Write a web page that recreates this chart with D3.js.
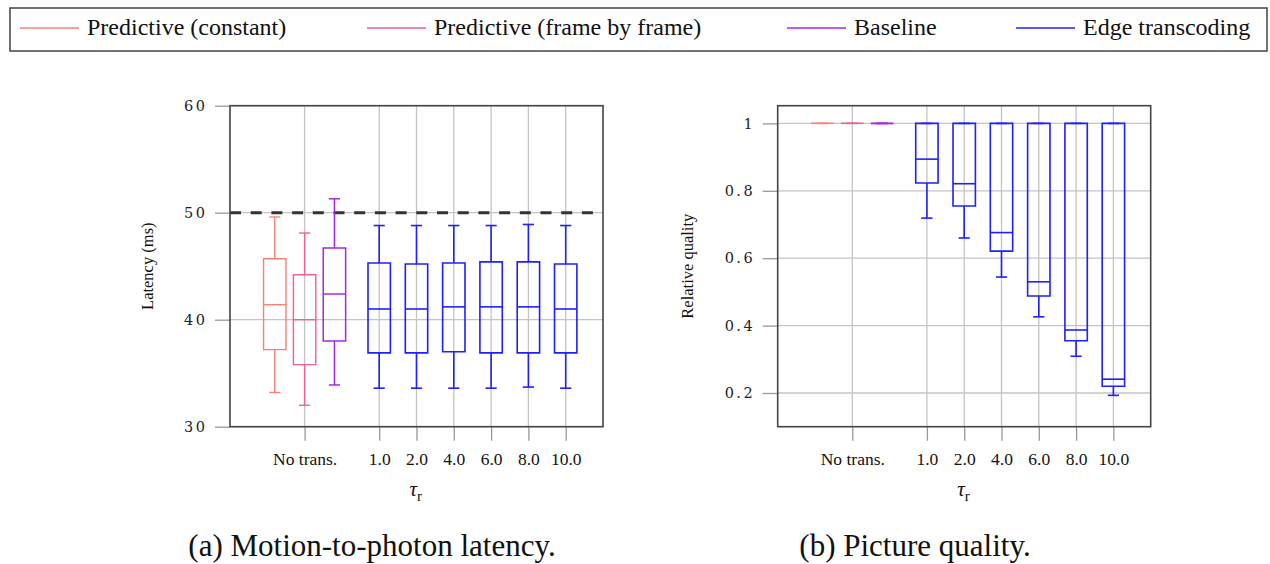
<!DOCTYPE html>
<html>
<head>
<meta charset="utf-8">
<script src="https://cdn.jsdelivr.net/npm/d3@7"></script>
</head>
<body style="margin:0;background:#fff">
<svg id="chart" width="1270" height="564"></svg>
<script>
// categories on the x axis and where they sit
const xLabels = ["No trans.", "1.0", "2.0", "4.0", "6.0", "8.0", "10.0"];
const xTickPos = [1, 3, 4, 5, 6, 7, 8];

const seriesNames = ["Predictive (constant)", "Predictive (frame by frame)", "Baseline", "Edge transcoding"];
const seriesColors = ["#fa8072", "#f0609c", "#a826e8", "#1f1fff"];

// box stats: [lower whisker, q1, median, q3, upper whisker]
const latPredConst = [33.2, 37.2, 41.4, 45.7, 49.6];
const latPredFrame = [32.0, 35.8, 40.0, 44.2, 48.1];
const latBaseline  = [33.9, 38.0, 42.4, 46.7, 51.3];
const latEdge = [
  [33.6, 36.9, 41.0, 45.3, 48.8],
  [33.6, 36.9, 41.0, 45.2, 48.8],
  [33.6, 37.0, 41.2, 45.3, 48.8],
  [33.6, 36.9, 41.2, 45.4, 48.8],
  [33.7, 36.9, 41.2, 45.4, 48.9],
  [33.6, 36.9, 41.0, 45.2, 48.8]
];
const latTicks = [30, 40, 50, 60];
const latLimit = 50;

const qualPredConst = [1, 1, 1, 1, 1];
const qualPredFrame = [1, 1, 1, 1, 1];
const qualBaseline  = [1, 1, 1, 1, 1];
const qualEdge = [
  [0.719, 0.823, 0.894, 1, 1],
  [0.660, 0.755, 0.821, 1, 1],
  [0.544, 0.621, 0.676, 1, 1],
  [0.426, 0.488, 0.530, 1, 1],
  [0.309, 0.355, 0.387, 1, 1],
  [0.193, 0.220, 0.241, 1, 1]
];
const qualTicks = [0.2, 0.4, 0.6, 0.8, 1];
const qualTickLabels = ["0.2", "0.4", "0.6", "0.8", "1"];

const SERIF = '"Liberation Serif"';
const WIDE = '"DejaVu Serif"';

const svg = d3.select("#chart");

function font(sel, fam, size) {
  sel.attr("font-family", fam.replace(/"/g, ""))
    .attr("font-size", size)
    .style("font-family", fam, "important")
    .style("font-size", size + "px", "important");
  return sel;
}

// legend
const legend = svg.append("g");
legend.append("rect")
  .attr("x", 10).attr("y", 8).attr("width", 1257).attr("height", 43)
  .attr("fill", "none").attr("stroke", "#444").attr("stroke-width", 1.5);
const legendX = [20, 367, 787, 1016];
seriesNames.forEach((name, i) => {
  legend.append("line")
    .attr("x1", legendX[i]).attr("x2", legendX[i] + 59)
    .attr("y1", 28).attr("y2", 28)
    .attr("stroke", seriesColors[i]).attr("stroke-width", 1.6);
  legend.append("text")
    .attr("x", legendX[i] + 67).attr("y", 35)
    .attr("fill", "#111")
    .call(font, SERIF, 24)
    .text(name);
});

function boxPlot(g, x, y, stats, pos, color, width) {
  const [lo, q1, med, q3, hi] = stats;
  const x0 = x(pos - 0.3), x1 = x(pos + 0.3);
  const c0 = x(pos - 0.15), c1 = x(pos + 0.15);
  const b = g.append("g")
    .attr("fill", "none")
    .attr("stroke", color)
    .attr("stroke-width", width);
  b.append("path")
    .attr("d", `M${x0},${y(q1)}H${x1}V${y(q3)}H${x0}Z`);
  b.append("line")
    .attr("x1", x0).attr("x2", x1).attr("y1", y(med)).attr("y2", y(med));
  b.append("line")
    .attr("x1", x(pos)).attr("x2", x(pos)).attr("y1", y(q3)).attr("y2", y(hi));
  b.append("line")
    .attr("x1", x(pos)).attr("x2", x(pos)).attr("y1", y(q1)).attr("y2", y(lo));
  b.append("line")
    .attr("x1", c0).attr("x2", c1).attr("y1", y(hi)).attr("y2", y(hi));
  b.append("line")
    .attr("x1", c0).attr("x2", c1).attr("y1", y(lo)).attr("y2", y(lo));
}

function panel(opts) {
  const left = opts.left, right = opts.left + 373, top = 105.7, bottom = 426.7;
  const x = d3.scaleLinear().domain([-1, 9]).range([left, right]);
  const y = d3.scaleLinear().domain(opts.yDomain).range([bottom, top]);
  const g = svg.append("g");

  // grid
  g.append("g").selectAll("line").data(xTickPos).enter().append("line")
    .attr("x1", d => x(d)).attr("x2", d => x(d))
    .attr("y1", top).attr("y2", bottom)
    .attr("stroke", "#c4c4c4").attr("stroke-width", 1.3);
  g.append("g").selectAll("line").data(opts.yTicks).enter().append("line")
    .attr("x1", left).attr("x2", right)
    .attr("y1", d => y(d)).attr("y2", d => y(d))
    .attr("stroke", "#c4c4c4").attr("stroke-width", 1.3);

  // x axis
  const xAxis = g.append("g")
    .attr("transform", `translate(0,${bottom})`)
    .call(d3.axisBottom(x).tickValues(xTickPos)
      .tickFormat((d, i) => xLabels[i]).tickSize(14).tickPadding(12));
  xAxis.attr("font-family", null).attr("font-size", null);
  xAxis.select(".domain").remove();
  xAxis.selectAll(".tick line").attr("stroke", "#999").attr("stroke-width", 1.3);
  xAxis.selectAll(".tick text")
    .call(font, SERIF, 17.5)
    .attr("fill", "#111");

  // y axis
  const yAxis = g.append("g")
    .attr("transform", `translate(${left},0)`)
    .call(d3.axisLeft(y).tickValues(opts.yTicks)
      .tickFormat((d, i) => opts.yTickLabels[i]).tickSize(15).tickPadding(10));
  yAxis.attr("font-family", null).attr("font-size", null);
  yAxis.select(".domain").remove();
  yAxis.selectAll(".tick line").attr("stroke", "#999").attr("stroke-width", 1.3);
  yAxis.selectAll(".tick text")
    .call(font, WIDE, 14.5)
    .attr("letter-spacing", 2.5)
    .attr("dx", 2.5)
    .attr("fill", "#222");

  // y label
  g.append("text")
    .attr("transform", `translate(${opts.labelX},${(top + bottom) / 2}) rotate(-90)`)
    .attr("text-anchor", "middle")
    .attr("fill", "#111")
    .call(font, SERIF, 16.5)
    .text(opts.yLabel);

  // x label tau_r
  const xl = g.append("text")
    .attr("x", (left + right) / 2 - 7).attr("y", 496)
    .attr("fill", "#111")
    .call(font, SERIF, 21);
  xl.append("tspan").attr("font-style", "italic").text("τ");
  xl.append("tspan").call(font, SERIF, 15).attr("dy", 5).text("r");

  if (opts.limit !== undefined) {
    g.append("line")
      .attr("x1", left).attr("x2", x(8.75))
      .attr("y1", y(opts.limit)).attr("y2", y(opts.limit))
      .attr("stroke", "#333").attr("stroke-width", 3)
      .attr("stroke-dasharray", "11,9.7");
  }

  // boxes
  boxPlot(g, x, y, opts.predConst, 0.2, seriesColors[0], 1.4);
  boxPlot(g, x, y, opts.predFrame, 1.0, seriesColors[1], 1.4);
  boxPlot(g, x, y, opts.baseline, 1.8, seriesColors[2], 1.5);
  opts.edge.forEach((s, i) => boxPlot(g, x, y, s, xTickPos[i + 1], seriesColors[3], 1.6));

  // frame
  g.append("rect")
    .attr("x", left).attr("y", top)
    .attr("width", right - left).attr("height", bottom - top)
    .attr("fill", "none").attr("stroke", "#444").attr("stroke-width", 1.6);

  // caption
  svg.append("text")
    .attr("x", opts.captionX).attr("y", 556)
    .attr("text-anchor", "middle")
    .attr("fill", "#111")
    .call(font, SERIF, 31)
    .text(opts.caption);
}

panel({
  left: 230,
  yDomain: [30, 60],
  yTicks: latTicks,
  yTickLabels: latTicks.map(String),
  yLabel: "Latency (ms)",
  labelX: 153,
  limit: latLimit,
  predConst: latPredConst,
  predFrame: latPredFrame,
  baseline: latBaseline,
  edge: latEdge,
  caption: "(a) Motion-to-photon latency.",
  captionX: 372
});

panel({
  left: 777.7,
  yDomain: [0.1, 1.0525],
  yTicks: qualTicks,
  yTickLabels: qualTickLabels,
  yLabel: "Relative quality",
  labelX: 693,
  predConst: qualPredConst,
  predFrame: qualPredFrame,
  baseline: qualBaseline,
  edge: qualEdge,
  caption: "(b) Picture quality.",
  captionX: 915
});
</script>
</body>
</html>
